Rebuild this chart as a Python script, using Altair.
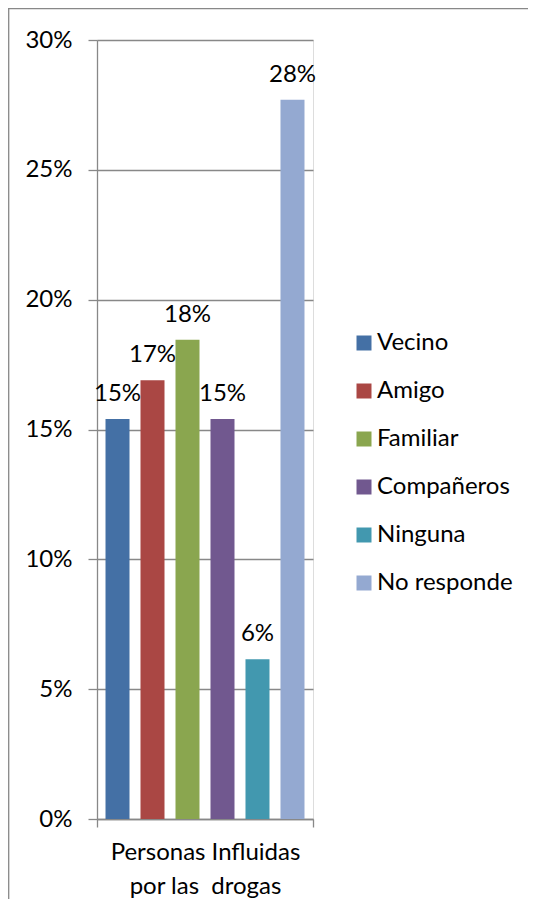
import altair as alt
import pandas as pd

grupo = "Personas Influidas por las drogas"
series = ["Vecino", "Amigo", "Familiar", "Compañeros", "Ninguna", "No responde"]
values = [0.154, 0.169, 0.1846, 0.154, 0.0615, 0.277]
colors = ["#4470A5", "#AA4744", "#8AA64F", "#71588F", "#4298AF", "#94A9D1"]
y_ticks = [0, 0.05, 0.10, 0.15, 0.20, 0.25, 0.30]
x_title = ["Personas Influidas", "por las\u00a0 drogas"]

df = pd.DataFrame({"grupo": [grupo] * len(series), "serie": series, "valor": values})

FONT = "Lato"
FS = 24
GRID = "#888888"
W, H = 216, 779
PAD = {"left": 89, "top": 32, "right": 215, "bottom": 80}

x_enc = alt.X(
    "grupo:N",
    scale=alt.Scale(paddingInner=0, paddingOuter=0),
    axis=alt.Axis(
        labels=False, tickBand="extent", tickSize=8, tickColor=GRID, tickWidth=1.3,
        domainColor=GRID, domainWidth=1.3, grid=False,
        title=x_title, titleFont=FONT, titleFontSize=FS, titleFontWeight="normal",
        titleColor="black", titlePadding=13, titleLineHeight=34,
    ),
)
xo_enc = alt.XOffset("serie:N", sort=series,
                     scale=alt.Scale(paddingInner=0.314, paddingOuter=0.243))
y_enc = alt.Y(
    "valor:Q",
    scale=alt.Scale(domain=[0, 0.3], nice=False),
    axis=alt.Axis(
        values=y_ticks, format=".0%", title=None, labelFont=FONT, labelFontSize=FS,
        labelColor="black", labelPadding=16, tickSize=9, tickColor=GRID, tickWidth=1.3,
        domainColor=GRID, domainWidth=1.3, gridColor=GRID, gridWidth=1.3,
    ),
)
color_enc = alt.Color(
    "serie:N", sort=series,
    scale=alt.Scale(domain=series, range=colors),
    legend=alt.Legend(
        title=None, orient="none", legendX=255, legendY=291, symbolType="square",
        symbolSize=225, symbolStrokeWidth=0, labelFont=FONT, labelFontSize=FS,
        labelColor="black", rowPadding=24, labelOffset=1, padding=0,
    ),
)

base = alt.Chart(df)
bars = base.mark_bar().encode(x=x_enc, xOffset=xo_enc, y=y_enc, color=color_enc)
labels = base.mark_text(font=FONT, fontSize=FS, baseline="alphabetic", dy=-18,
                        color="black").encode(
    x=alt.X("grupo:N"), xOffset=alt.XOffset("serie:N", sort=series), y="valor:Q",
    text=alt.Text("valor:Q", format=".0%"),
)

frame_df = pd.DataFrame({"k": [0]})
top_line = alt.Chart(frame_df).mark_rule(color=GRID, strokeWidth=1.3).encode(
    x=alt.value(-PAD["left"]), x2=alt.value(W + PAD["right"]),
    y=alt.value(-PAD["top"] + 0.7))
left_line = alt.Chart(frame_df).mark_rule(color=GRID, strokeWidth=1.3).encode(
    x=alt.value(-PAD["left"] + 0.7), y=alt.value(-PAD["top"]),
    y2=alt.value(H + PAD["bottom"]))

chart = alt.layer(bars, labels, top_line, left_line).properties(
    width=W, height=H,
    autosize="none",
    padding=PAD,
).configure_view(stroke=None).configure(background="white")

chart.save("out.html", embed_options={"renderer": "svg", "actions": False})
